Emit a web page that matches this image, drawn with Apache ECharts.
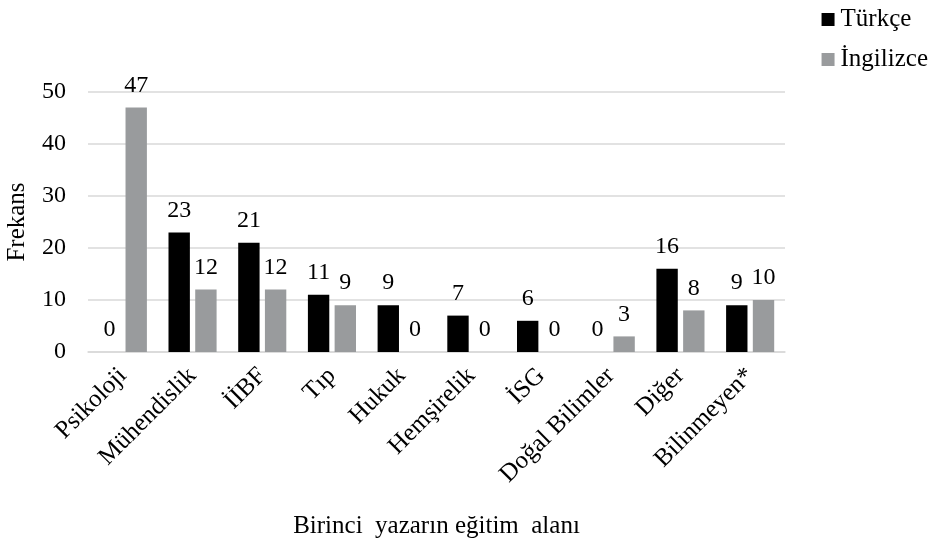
<!DOCTYPE html>
<html>
<head>
<meta charset="utf-8">
<script src="https://cdn.jsdelivr.net/npm/echarts@6/dist/echarts.min.js"></script>
<style>html,body{margin:0;padding:0;background:#fff}#c{width:937px;height:541px}</style>
</head>
<body>
<div id="c"></div>
<script>
const categories = ['Psikoloji','Mühendislik','İİBF','Tıp','Hukuk','Hemşirelik','İSG','Doğal Bilimler','Diğer','Bilinmeyen*'];
const turkce = [0,23,21,11,9,7,6,0,16,9];
const ingilizce = [47,12,12,9,0,0,0,3,8,10];
const seriesNames = ['Türkçe','İngilizce'];
const yTicks = {min:0, max:50, interval:10};

const font = '"Liberation Serif", "Times New Roman", serif';
const chart = echarts.init(document.getElementById('c'));
const labelCfg = {show:true, position:'top', distance:10, color:'#000', fontSize:24, fontFamily:font};
chart.setOption({
  animation:false,
  textStyle:{fontFamily:font},
  legend:{
    orient:'vertical', right:4, top:2, itemWidth:13, itemHeight:13, itemGap:15,
    icon:'rect',
    textStyle:{fontSize:25, fontFamily:font, color:'#000', padding:[0,0,0,1]},
    data:seriesNames
  },
  grid:{left:88, right:152, top:92, bottom:189, containLabel:false, outerBoundsMode:'none'},
  xAxis:{
    type:'category', data:categories,
    axisLine:{lineStyle:{color:'#d9d9d9', width:1.5}},
    axisTick:{show:false},
    axisLabel:{rotate:45, fontSize:25, fontFamily:font, color:'#000', interval:0, margin:20},
    name:'Birinci  yazarın eğitim  alanı', nameLocation:'middle', nameGap:162,
    nameTextStyle:{fontSize:25, fontFamily:font, color:'#000'}
  },
  yAxis:{
    type:'value', min:yTicks.min, max:yTicks.max, interval:yTicks.interval,
    axisLine:{show:false}, axisTick:{show:false},
    splitLine:{lineStyle:{color:'#d9d9d9', width:1.5}},
    axisLabel:{fontSize:24, fontFamily:font, color:'#000', margin:22},
    name:'Frekans', nameLocation:'middle', nameGap:58, nameRotate:90,
    nameTextStyle:{fontSize:25, fontFamily:font, color:'#000'}
  },
  series:[
    {name:seriesNames[0], type:'bar', data:turkce, barGap:'25%', barCategoryGap:'31%',
     itemStyle:{color:'#000000'}, label:labelCfg},
    {name:seriesNames[1], type:'bar', data:ingilizce,
     itemStyle:{color:'#999b9d'}, label:labelCfg}
  ]
});
</script>
</body>
</html>
